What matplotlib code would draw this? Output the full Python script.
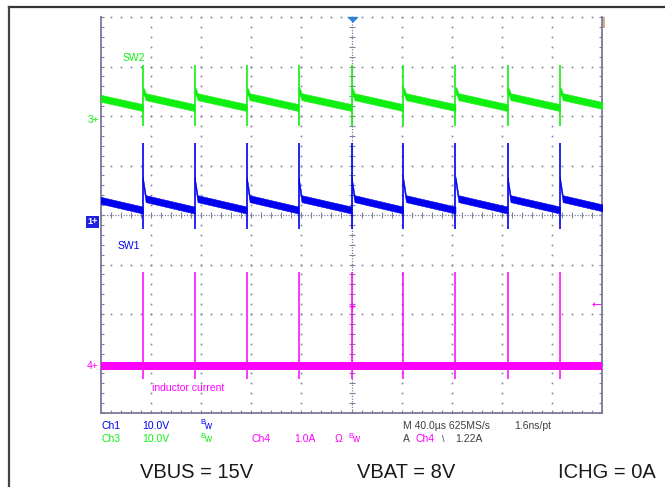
import numpy as np
import matplotlib
matplotlib.use('Agg')
import matplotlib.pyplot as plt
from matplotlib.transforms import blended_transform_factory
from matplotlib.lines import Line2D
from matplotlib.patches import Rectangle

plt.rcParams['font.family'] = ['Liberation Sans', 'DejaVu Sans']

# scope settings
time_per_div = 40.0     # us/div
ch1_scale = 10.0        # V/div
ch3_scale = 10.0        # V/div
ch4_scale = 1.0         # A/div
trig_level = 1.22       # A

# switching edges, us from trigger
edges = [-166.7, -125.3, -83.7, -42.3, 0.0, 41.1, 83.0, 124.6, 166.3]

# SW2 (Ch3), V
sw2_spike_hi = 11.1
sw2_spike_lo = -1.2
sw2_tail_dt = [0.0, 1.2, 2.4]
sw2_tail_v = [6.0, 5.6, 4.7]
sw2_end = 2.5

# SW1 (Ch1), V
sw1_spike_hi = 16.0
sw1_spike_lo = -1.4
sw1_tail_dt = [0.0, 0.8, 2.4]
sw1_tail_v = [8.5, 7.3, 4.7]
sw1_end = 2.4

# inductor current (Ch4), A
il_spike_hi = 1.9
il_spike_lo = -0.26
il_base = 0.0

conditions = ['VBUS = 15V', 'VBAT = 8V', 'ICHG = 0A']

# channel ground positions (divisions)
ch3_pos = 1.92
ch1_pos = -0.14
ch4_pos = -3.05

blue = '#0000f0'
green = '#10f010'
pink = '#ff00ff'
grid_c = '#8080a0'
grey_txt = '#404040'

W, H = 665, 487
fig = plt.figure(figsize=(W / 100, H / 100), dpi=100)
ax = fig.add_axes([101 / W, 1 - 413 / H, 501 / W, 396 / H])
xmax = 5 * time_per_div
ax.set_xlim(-xmax, xmax)
ax.set_ylim(-4, 4)

# graticule
minor_x = np.arange(-xmax, xmax + 0.1, time_per_div / 5)
minor_y = np.arange(-4, 4.01, 0.2)
for gx in np.arange(-xmax + time_per_div, xmax, time_per_div):
    if abs(gx) < 1e-6:
        continue
    ax.plot(np.full(len(minor_y), gx), minor_y, ls='none', marker='s', ms=1.2,
            color=grid_c, mec='none', zorder=1)
for gy in [-3, -2, -1, 1, 2, 3, 4]:
    ax.plot(minor_x, np.full(len(minor_x), gy), ls='none', marker='s', ms=1.2,
            color=grid_c, mec='none', zorder=1, clip_on=False)
ax.axvline(0, color=grid_c, lw=0.9, ls=(0, (1, 1.2)), zorder=1)
ax.axhline(0, color=grid_c, lw=0.9, ls=(0, (1, 1.2)), zorder=1)
ax.plot(np.zeros(len(minor_y)), minor_y, ls='none', marker='_', ms=4, mew=0.8, color=grid_c, zorder=1)
ax.plot(minor_x, np.zeros(len(minor_x)), ls='none', marker='|', ms=4, mew=0.8, color=grid_c, zorder=1)

ax.set_xticks(minor_x)
ax.set_yticks(minor_y)
ax.tick_params(direction='in', length=2.5, width=0.8, color=grid_c,
               labelbottom=False, labelleft=False, top=False, right=True)
for s in ['left', 'right', 'bottom']:
    ax.spines[s].set_color('#7a7a9a')
    ax.spines[s].set_linewidth(1.3)
ax.spines['top'].set_visible(False)

# traces
period = np.mean(np.diff(edges))
starts = [edges[0] - period] + edges


def draw_trace(pos, scale, tail_dt, tail_v, v_end, hi, lo, half, color):
    for i, t0 in enumerate(starts):
        t1 = starts[i + 1] if i + 1 < len(starts) else t0 + period
        t = np.array([t0 + d for d in tail_dt] + [t1])
        v = np.array(list(tail_v) + [v_end])
        ax.fill_between(t, pos + (v - half) / scale, pos + (v + half) / scale,
                        color=color, lw=0.4, zorder=3)
    ax.vlines(edges, pos + lo / scale, pos + hi / scale, color=color, lw=1.2, zorder=3)


draw_trace(ch3_pos, ch3_scale, sw2_tail_dt, sw2_tail_v, sw2_end,
           sw2_spike_hi, sw2_spike_lo, 0.7, green)
draw_trace(ch1_pos, ch1_scale, sw1_tail_dt, sw1_tail_v, sw1_end,
           sw1_spike_hi, sw1_spike_lo, 0.7, blue)

ax.axhspan(ch4_pos + (il_base - 0.08) / ch4_scale, ch4_pos + (il_base + 0.08) / ch4_scale,
           color=pink, lw=0, zorder=3)
ax.vlines(edges, ch4_pos + il_spike_lo / ch4_scale, ch4_pos + il_spike_hi / ch4_scale,
          color=pink, lw=1.1, zorder=3)

# markers
trans = blended_transform_factory(ax.transAxes, ax.transData)
trig_y = ch4_pos + trig_level / ch4_scale
ax.plot(0, trig_y, marker='+', ms=5, mew=1, color=pink, zorder=4)
ax.text(0.998, trig_y, '\u2190', transform=trans, ha='right', va='center',
        color=pink, fontsize=8, family='DejaVu Sans')
ax.plot(0, 4, marker=[(-1, 0), (1, 0), (0, -1)], ms=7, color='#2f7fd8',
        clip_on=False, zorder=5)
ax.add_patch(Rectangle((1.0, 1 - 11 / 396), 3 / 501, 11 / 396, transform=ax.transAxes,
                       color='#d8aa88', clip_on=False, lw=0))

ax.text(-0.004, ch3_pos, '3+', transform=trans, ha='right', va='center', color=green, fontsize=7.5)
ax.text(-0.004, ch4_pos, '4+', transform=trans, ha='right', va='center', color=pink, fontsize=7.5)
ax.text(-0.006, ch1_pos, '1+', transform=trans, ha='right', va='center', color='white',
        fontsize=6.5, fontweight='bold',
        bbox=dict(boxstyle='square,pad=0.15', fc='#2020e0', ec='none'))


def ftext(x, y, s, **kw):
    fig.text(x / W, 1 - y / H, s, va='center', ha='left', **kw)


ftext(123, 58, 'SW2', color=green, fontsize=7.5)
ftext(118, 246, 'SW1', color=blue, fontsize=7.5)
ftext(152, 388, 'inductor current', color=pink, fontsize=7.5)


def bw(x, y, color):
    ftext(x, y - 3, 'B', color=color, fontsize=5.5)
    ftext(x + 4, y, 'w', color=color, fontsize=7)


fs = 7.5
ftext(101, 426, 'Ch1', color=blue, fontsize=fs)
ftext(142, 426, f'{ch1_scale:.1f}V', color=blue, fontsize=fs)
bw(200, 426, blue)
ftext(403, 426, f'M {time_per_div:.1f}\u00b5s 625MS/s', color=grey_txt, fontsize=fs)
ftext(514, 426, '1.6ns/pt', color=grey_txt, fontsize=fs)

ftext(101, 439, 'Ch3', color=green, fontsize=fs)
ftext(142, 439, f'{ch3_scale:.1f}V', color=green, fontsize=fs)
bw(200, 439, green)
ftext(252, 439, 'Ch4', color=pink, fontsize=fs)
ftext(294, 439, f'{ch4_scale:.1f}A', color=pink, fontsize=fs)
ftext(335, 439, '\u03a9', color=pink, fontsize=fs)
bw(348, 439, pink)
ftext(403, 439, 'A', color=grey_txt, fontsize=fs)
ftext(416, 439, 'Ch4', color=pink, fontsize=fs)
ftext(442, 439, '\\', color=grey_txt, fontsize=fs - 1)
ftext(455, 439, f'{trig_level:.2f}A', color=grey_txt, fontsize=fs)

for x, s in zip([140, 357, 558], conditions):
    ftext(x, 472, s, color='#1a1a1a', fontsize=14.5)

# outer frame
fig.add_artist(Line2D([9 / W, 1], [1 - 6.5 / H, 1 - 6.5 / H], color='#333333', lw=1.6))
fig.add_artist(Line2D([9 / W, 9 / W], [1 - 6.5 / H, 0], color='#444444', lw=1.6))

fig.savefig('out.png', dpi=100)
